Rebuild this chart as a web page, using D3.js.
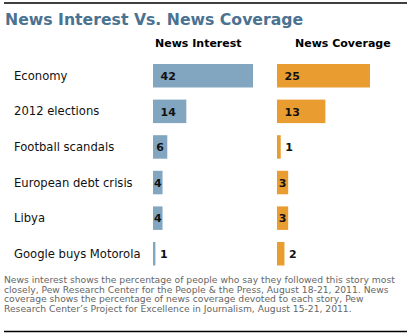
<!DOCTYPE html>
<html>
<head>
<meta charset="utf-8">
<script src="https://cdn.jsdelivr.net/npm/d3@7"></script>
<style>
  body { margin: 0; background: #fff; }
  text { font-family: "DejaVu Sans", Verdana, sans-serif; }
</style>
</head>
<body>
<div id="chart"></div>
<script>
// Stories and the two measures for each
const stories = ["Economy", "2012 elections", "Football scandals", "European debt crisis", "Libya", "Google buys Motorola"];
const newsInterest = [42, 14, 6, 4, 4, 1];
const newsCoverage = [25, 13, 1, 3, 3, 2];

const titleText = "News Interest Vs. News Coverage";
const seriesNames = ["News Interest", "News Coverage"];
const noteLines = [
    "News interest shows the percentage of people who say they followed this story most",
    "closely, Pew Research Center for the People & the Press, August 18-21, 2011. News",
    "coverage shows the percentage of news coverage devoted to each story, Pew",
    "Research Center\u2019s Project for Excellence in Journalism, August 15-21, 2011."
];

const width = 410, height = 336;
const svg = d3.select("#chart").append("svg")
    .attr("width", width)
    .attr("height", height);

// Rules at top and bottom
svg.append("line")
    .attr("x1", 4).attr("x2", 407)
    .attr("y1", 3).attr("y2", 3)
    .style("stroke", "#000")
    .style("stroke-width", 1.5);

svg.append("line")
    .attr("x1", 4).attr("x2", 407)
    .attr("y1", 331.5).attr("y2", 331.5)
    .style("stroke", "#000")
    .style("stroke-width", 1.5);

svg.append("text")
    .attr("x", 5)
    .attr("y", 25)
    .style("font-size", "15.7px")
    .style("font-weight", "bold")
    .style("fill", "#4a7291")
    .text(titleText);

// Row positions
const y = d3.scaleBand()
    .domain(stories)
    .range([64, 265.5])
    .paddingInner(0.34)
    .paddingOuter(0);

// Each panel has its own scale; header sits a bit right of the bar origin
const panels = [
    { name: seriesNames[0], values: newsInterest, color: "#82a5c0", headX: 155,
      x: d3.scaleLinear().domain([0, 42]).range([153, 253]) },
    { name: seriesNames[1], values: newsCoverage, color: "#e99c30", headX: 295,
      x: d3.scaleLinear().domain([0, 25]).range([277, 370]) }
];

// Row labels
svg.selectAll(".row-label")
    .data(stories)
    .join("text")
    .attr("class", "row-label")
    .attr("x", 14)
    .attr("y", d => y(d) + y.bandwidth() / 2)
    .attr("dy", "0.35em")
    .style("font-size", "11.6px")
    .style("fill", "#111")
    .text(d => d);

panels.forEach(p => {
    const x0 = p.x(0);

    svg.append("text")
        .attr("x", p.headX)
        .attr("y", 47)
        .style("font-size", "11px")
        .style("font-weight", "bold")
        .style("fill", "#000")
        .text(p.name);

    const rows = stories.map((s, i) => ({ story: s, value: p.values[i] }));

    svg.selectAll(null)
        .data(rows)
        .join("rect")
        .attr("x", x0)
        .attr("y", d => y(d.story))
        .attr("width", d => p.x(d.value) - x0)
        .attr("height", y.bandwidth())
        .style("fill", p.color);

    // Value labels: inside wide bars, centred on narrow ones, after tiny ones
    svg.selectAll(null)
        .data(rows)
        .join("text")
        .attr("x", d => {
            const w = p.x(d.value) - x0;
            if (w >= 20) return x0 + 7.5;
            if (w >= 8) return x0 + w / 2;
            return x0 + w + 4.5;
        })
        .attr("text-anchor", d => {
            const w = p.x(d.value) - x0;
            return (w >= 8 && w < 20) ? "middle" : "start";
        })
        .attr("y", d => y(d.story) + y.bandwidth() / 2)
        .attr("dy", "0.38em")
        .style("font-size", "11px")
        .style("font-weight", "bold")
        .style("fill", "#111")
        .text(d => d.value);
});

// Source note
svg.append("text")
    .attr("x", 4)
    .attr("y", 283)
    .style("font-size", "9.2px")
    .style("fill", "#666")
    .selectAll("tspan")
    .data(noteLines)
    .join("tspan")
    .attr("x", 4)
    .attr("dy", (d, i) => i === 0 ? 0 : 9.6)
    .text(d => d);
</script>
</body>
</html>
